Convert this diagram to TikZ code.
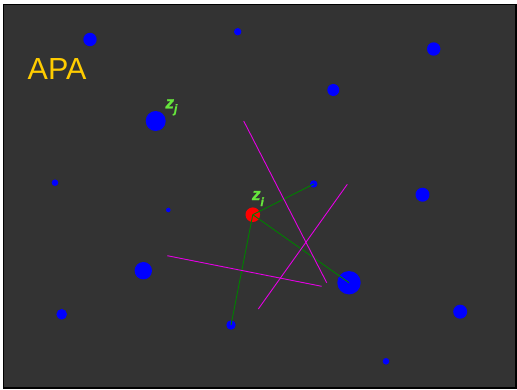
\documentclass[tikz,border=0pt]{standalone}
\usepackage{fontspec}
\newfontfamily\arialfont{Liberation Sans}
\newfontfamily\labfont{Liberation Sans}[FakeBold=1.5]
\definecolor{bgdark}{RGB}{51,51,51}
\definecolor{apayellow}{RGB}{255,204,0}
\definecolor{labgreen}{RGB}{102,230,60}
\definecolor{edgegreen}{RGB}{0,128,0}
\definecolor{hypmag}{RGB}{230,0,230}
\tikzset{
  dot/.style={circle,fill=blue,draw=none,inner sep=0pt,minimum size=#1},
  center/.style={circle,fill=red,draw=none,inner sep=0pt,minimum size=#1},
  nbr/.style={draw=edgegreen,line width=0.9pt},
  hyp/.style={draw=hypmag,line width=0.9pt},
  zlab/.style={text=labgreen,inner sep=0pt,anchor=base west,font=\labfont\bfseries\itshape\fontsize{17}{17}\selectfont}
}
\begin{document}
\begin{tikzpicture}[x=1pt,y=-1pt]
\useasboundingbox[fill=white] (0,0) rectangle (517,389);
\draw[fill=bgdark,line width=1.6pt] (3.5,4.5) rectangle (516,388);
% blue points
\node[dot=13.4pt] (p1) at (90,39.5) {};
\node[dot=7.4pt] (p2) at (237.7,31.7) {};
\node[dot=20pt] (p3) at (155.7,121) {};
\node[dot=6.6pt] (p4) at (55,182.7) {};
\node[dot=13.4pt] (p5) at (433.7,49) {};
\node[dot=12pt] (p6) at (333.3,90) {};
\node[dot=7.4pt] (p7) at (313.7,184) {};
\node[dot=14pt] (p8) at (422.5,194.7) {};
\node[dot=4.6pt] (p9) at (168.3,210) {};
\node[dot=17.4pt] (p10) at (143.3,270.7) {};
\node[dot=23.4pt] (p11) at (349,282.7) {};
\node[dot=10.6pt] (p12) at (61.7,314.3) {};
\node[dot=9.4pt] (p13) at (231,325) {};
\node[dot=14pt] (p14) at (460.2,311.7) {};
\node[dot=6.6pt] (p15) at (386,361.3) {};
% query point
\node[center=14.6pt] (zi) at (252.8,214.7) {};
% neighbour edges
\draw[nbr] (zi.center) -- (p7.center);
\draw[nbr] (zi.center) -- (p11.center);
\draw[nbr] (zi.center) -- (p13.center);
% hyperplanes
\coordinate (h1a) at (243.7,121);
\coordinate (h1b) at (326.7,282.7);
\coordinate (h2a) at (347.3,184.3);
\coordinate (h2b) at (258.3,309);
\coordinate (h3a) at (167.3,255.7);
\coordinate (h3b) at (321.7,286.3);
\draw[hyp] (h1a) -- (h1b);
\draw[hyp] (h2a) -- (h2b);
\draw[hyp] (h3a) -- (h3b);
% labels
\node[zlab] (lj) at (165.3,108.3) {z\raisebox{-4.5pt}{\fontsize{12}{12}\selectfont j}};
\node[zlab] (li) at (251.8,200) {z\raisebox{-6pt}{\fontsize{12}{12}\selectfont i}};
\node[text=apayellow,inner sep=0pt,anchor=base west,font=\arialfont\fontsize{30.5}{30.5}\selectfont] (apa) at (27.5,79.3) {APA};
\end{tikzpicture}
\end{document}
